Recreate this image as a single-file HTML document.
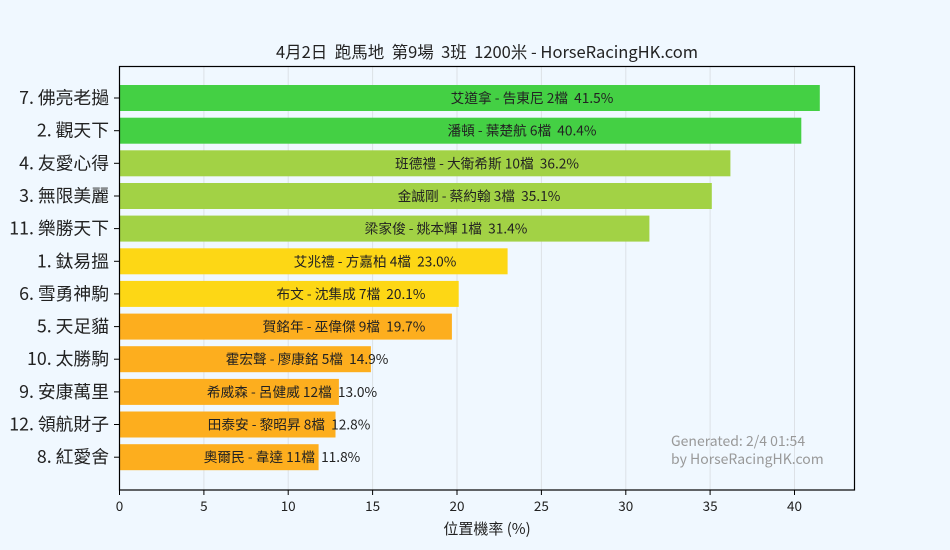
<!DOCTYPE html>
<html><head><meta charset="utf-8"><style>
body{margin:0;background:#f0f8ff}
svg{display:block}
text{font-family:"Noto Sans CJK TC","Liberation Sans",sans-serif;white-space:pre}
</style></head><body>
<svg width="950" height="550" xmlns="http://www.w3.org/2000/svg">
<rect width="950" height="550" fill="#f0f8ff"/>
<text x="487" y="58" font-size="16.5" text-anchor="middle" fill="#222">4月2日  跑馬地  第9場  3班  1200米 - HorseRacingHK.com</text>
<g stroke="#dde1e6" stroke-width="1">
<line x1="203.9" y1="66" x2="203.9" y2="490"/><line x1="288.2" y1="66" x2="288.2" y2="490"/>
<line x1="372.6" y1="66" x2="372.6" y2="490"/><line x1="457" y1="66" x2="457" y2="490"/>
<line x1="541.4" y1="66" x2="541.4" y2="490"/><line x1="625.8" y1="66" x2="625.8" y2="490"/>
<line x1="710.1" y1="66" x2="710.1" y2="490"/><line x1="794.5" y1="66" x2="794.5" y2="490"/>
</g>
<g>
<rect x="119.5" y="85" width="700.3" height="26" fill="#44d044"/>
<rect x="119.5" y="117.7" width="681.8" height="26" fill="#44d044"/>
<rect x="119.5" y="150.3" width="610.9" height="26" fill="#a2d245"/>
<rect x="119.5" y="183" width="592.3" height="26" fill="#a2d245"/>
<rect x="119.5" y="215.6" width="529.9" height="26" fill="#a2d245"/>
<rect x="119.5" y="248.3" width="388.1" height="26" fill="#fdd715"/>
<rect x="119.5" y="280.9" width="339.2" height="26" fill="#fdd715"/>
<rect x="119.5" y="313.6" width="332.4" height="26" fill="#fdae1e"/>
<rect x="119.5" y="346.2" width="251.4" height="26" fill="#fdae1e"/>
<rect x="119.5" y="378.9" width="219.4" height="26" fill="#fdae1e"/>
<rect x="119.5" y="411.5" width="216" height="26" fill="#fdae1e"/>
<rect x="119.5" y="444.2" width="199.1" height="26" fill="#fdae1e"/>
</g>
<g font-size="13.7" fill="#222" text-anchor="middle">
<text x="532" y="103">艾道拿 - 告東尼 2檔  41.5%</text>
<text x="522" y="135.7">潘頓 - 葉楚航 6檔  40.4%</text>
<text x="487" y="168.3">班德禮 - 大衛希斯 10檔  36.2%</text>
<text x="479" y="201">金誠剛 - 蔡約翰 3檔  35.1%</text>
<text x="446" y="233.6">梁家俊 - 姚本輝 1檔  31.4%</text>
<text x="375" y="266.3">艾兆禮 - 方嘉柏 4檔  23.0%</text>
<text x="351" y="298.9">布文 - 沈集成 7檔  20.1%</text>
<text x="344" y="331.6">賀銘年 - 巫偉傑 9檔  19.7%</text>
<text x="307" y="364.2">霍宏聲 - 廖康銘 5檔  14.9%</text>
<text x="292" y="396.9">希威森 - 呂健威 12檔  13.0%</text>
<text x="289" y="429.5">田泰安 - 黎昭昇 8檔  12.8%</text>
<text x="282" y="462.2">奧爾民 - 韋達 11檔  11.8%</text>
</g>
<g font-size="17.8" fill="#222" text-anchor="end">
<text x="109" y="104">7. 佛亮老撾</text>
<text x="109" y="136.7">2. 觀天下</text>
<text x="109" y="169.3">4. 友愛心得</text>
<text x="109" y="202">3. 無限美麗</text>
<text x="109" y="234.6">11. 樂勝天下</text>
<text x="109" y="267.3">1. 鈦易搵</text>
<text x="109" y="299.9">6. 雪勇神駒</text>
<text x="109" y="332.6">5. 天足貓</text>
<text x="109" y="365.2">10. 太勝駒</text>
<text x="109" y="397.9">9. 安康萬里</text>
<text x="109" y="430.5">12. 領航財子</text>
<text x="109" y="463.2">8. 紅愛舍</text>
</g>
<g stroke="#000" stroke-width="1">
<line x1="114" y1="98" x2="119" y2="98"/><line x1="114" y1="130.7" x2="119" y2="130.7"/>
<line x1="114" y1="163.3" x2="119" y2="163.3"/><line x1="114" y1="196" x2="119" y2="196"/>
<line x1="114" y1="228.6" x2="119" y2="228.6"/><line x1="114" y1="261.3" x2="119" y2="261.3"/>
<line x1="114" y1="293.9" x2="119" y2="293.9"/><line x1="114" y1="326.6" x2="119" y2="326.6"/>
<line x1="114" y1="359.2" x2="119" y2="359.2"/><line x1="114" y1="391.9" x2="119" y2="391.9"/>
<line x1="114" y1="424.5" x2="119" y2="424.5"/><line x1="114" y1="457.2" x2="119" y2="457.2"/>
<line x1="119.5" y1="490" x2="119.5" y2="495"/><line x1="203.9" y1="490" x2="203.9" y2="495"/>
<line x1="288.2" y1="490" x2="288.2" y2="495"/><line x1="372.6" y1="490" x2="372.6" y2="495"/>
<line x1="457" y1="490" x2="457" y2="495"/><line x1="541.4" y1="490" x2="541.4" y2="495"/>
<line x1="625.8" y1="490" x2="625.8" y2="495"/><line x1="710.1" y1="490" x2="710.1" y2="495"/>
<line x1="794.5" y1="490" x2="794.5" y2="495"/>
</g>
<rect x="119.5" y="66.5" width="735" height="423.5" fill="none" stroke="#000" stroke-width="1.2"/>
<g font-size="13.5" fill="#222" text-anchor="middle">
<text x="119.5" y="511">0</text><text x="203.9" y="511">5</text><text x="288.2" y="511">10</text>
<text x="372.6" y="511">15</text><text x="457" y="511">20</text><text x="541.4" y="511">25</text>
<text x="625.8" y="511">30</text><text x="710.1" y="511">35</text><text x="794.5" y="511">40</text>
<text x="487" y="534" font-size="15">位置機率 (%)</text>
</g>
<g font-size="14" fill="#999">
<text x="671" y="446">Generated: 2/4 01:54</text>
<text x="671" y="464">by HorseRacingHK.com</text>
</g>
</svg>
</body></html>
